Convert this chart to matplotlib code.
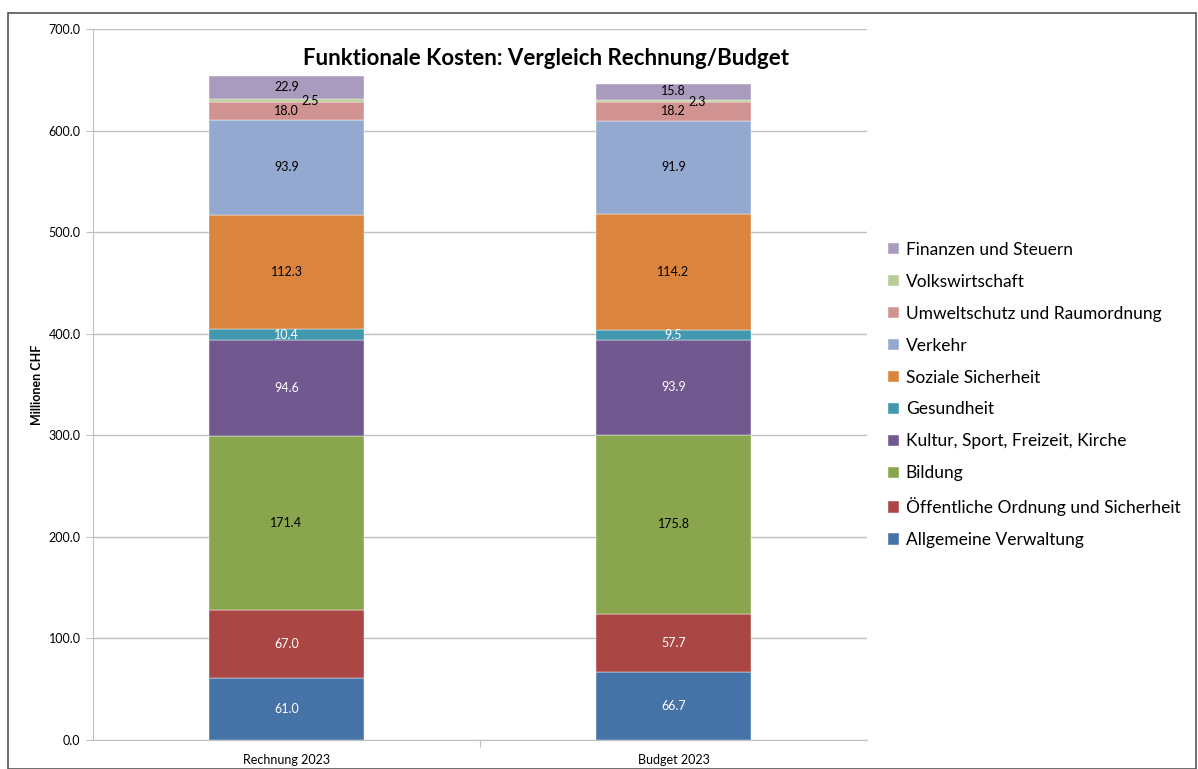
import numpy as np
import matplotlib
matplotlib.use('Agg')
import matplotlib.pyplot as plt
from matplotlib.patches import Rectangle

plt.rcParams['font.family'] = ['Lato', 'DejaVu Sans']

categories = ['Rechnung 2023', 'Budget 2023']
series = ['Allgemeine Verwaltung', 'Öffentliche Ordnung und Sicherheit', 'Bildung',
          'Kultur, Sport, Freizeit, Kirche', 'Gesundheit', 'Soziale Sicherheit',
          'Verkehr', 'Umweltschutz und Raumordnung', 'Volkswirtschaft', 'Finanzen und Steuern']
rechnung = [61.0, 67.0, 171.4, 94.6, 10.4, 112.3, 93.9, 18.0, 2.5, 22.9]
budget = [66.7, 57.7, 175.8, 93.9, 9.5, 114.2, 91.9, 18.2, 2.3, 15.8]
colors = ['#4572A7', '#AA4643', '#89A54E', '#71588F', '#4198AF', '#DB843D',
          '#93A9CF', '#D19392', '#B9CD96', '#A99BBD']
label_colors = ['white', 'white', 'black', 'white', 'white', 'black',
                'black', 'black', 'black', 'black']

fig = plt.figure(figsize=(11.98, 7.69), dpi=100)
ax = fig.add_axes([93/1198, 1-740/769, 774/1198, 711/769])
fig.patches.append(Rectangle((8/1198, 0), 1-8/1198-2/1198, 1-13/769, transform=fig.transFigure,
                             fill=False, edgecolor='#555555', linewidth=1.2))

data = np.array([rechnung, budget])
x = np.arange(len(categories))
bottom = np.zeros(len(categories))
handles = []
for i, name in enumerate(series):
    vals = data[:, i]
    b = ax.bar(x, vals, 0.4, bottom=bottom, color=colors[i], label=name,
               edgecolor='white', linewidth=0.3, zorder=3)
    handles.append(b)
    for j in range(len(categories)):
        xoff = 0.06 if series[i] == 'Volkswirtschaft' else 0
        yoff = 0
        if series[i] == 'Volkswirtschaft':
            yoff = -1
        if series[i] == 'Finanzen und Steuern':
            yoff = 0.5
        ax.text(x[j] + xoff, bottom[j] + vals[j] / 2 + yoff, f'{vals[j]:.1f}',
                ha='center', va='center', fontsize=9, color=label_colors[i], zorder=4)
    bottom += vals

ax.set_xlim(-0.5, 1.5)
ax.set_ylim(0, 700)
ax.set_yticks(np.arange(0, 701, 100))
ax.set_yticklabels([f'{v:.1f}' for v in np.arange(0, 701, 100)], fontsize=9)
ax.yaxis.grid(True, color='#BFBFBF', linewidth=1, zorder=0)
ax.set_xticks([0.5], minor=False)
ax.set_xticklabels([''])
ax.set_xticks(x, minor=True)
ax.set_xticklabels(categories, minor=True, fontsize=9)
ax.tick_params(axis='x', which='minor', length=0, pad=10)
ax.tick_params(axis='x', which='major', length=5, direction='out', color='#BFBFBF')
ax.tick_params(axis='y', length=5, direction='out', color='#BFBFBF', pad=4)
for s in ['top', 'right']:
    ax.spines[s].set_visible(False)
ax.spines['left'].set_color('#BFBFBF')
ax.spines['bottom'].set_color('#BFBFBF')
ax.set_ylabel('Millionen CHF', fontsize=9, fontweight='bold', labelpad=4)
ax.set_title('Funktionale Kosten: Vergleich Rechnung/Budget', fontsize=16,
             fontweight='bold', y=0.937, x=0.585)

leg = fig.legend(handles[::-1], series[::-1], loc='upper left',
                 bbox_to_anchor=(872/1198, 1-226/769), frameon=False, fontsize=12.5,
                 handlelength=0.65, handleheight=0.65, handletextpad=0.4, labelspacing=0.92)

fig.savefig('out.png', dpi=100)
